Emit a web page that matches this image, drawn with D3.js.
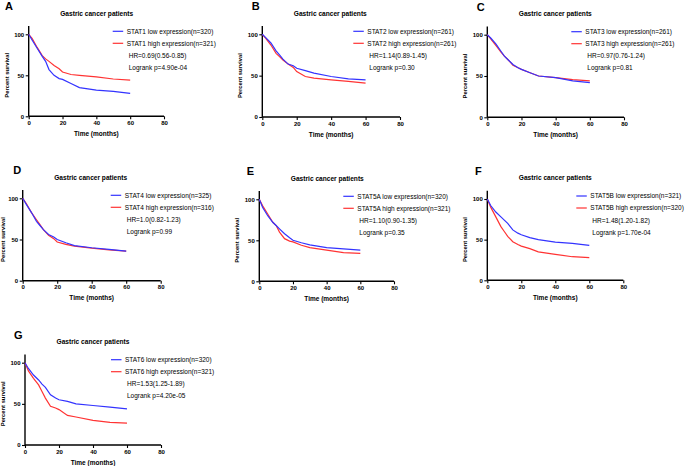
<!DOCTYPE html>
<html><head><meta charset="utf-8">
<script src="https://cdn.jsdelivr.net/npm/d3@7"></script>
<style>
body{margin:0;background:#fff;}
svg{display:block;font-family:"Liberation Sans",Arial,sans-serif;}
</style></head><body>
<svg id="c" width="685" height="466"></svg>
<script>
// ---- data ----
const times = [0, 2, 5, 8, 10, 12, 15, 18, 20, 25, 30, 40, 50, 60];
const stat1Low   = [100, 93, 83, 73, 67, 57, 50, 46, 45, 40, 35, 32, 30.5, 28];
const stat1High  = [100, 95, 84, 74, 70, 67, 62, 58, 54, 51, 50, 48, 45.5, 44];
const stat2Low   = [100, 96, 89.5, 80, 75, 70, 64, 62, 59, 56, 53, 49, 46, 45];
const stat2High  = [100, 95, 87, 77, 73, 69, 64, 60, 55, 49, 47, 45, 43, 41];
const stat3Low   = [100, 96, 89, 80, 74, 70, 64, 60, 58, 54, 50, 48, 44, 42];
const stat3High  = [100, 95, 87, 79, 74, 70, 63, 60, 58, 54, 50, 48, 45.5, 44];
const stat4Low   = [100, 93, 83, 72, 67, 62, 56, 53, 50, 46, 42.5, 40, 38, 36];
const stat4High  = [100, 94, 83, 74, 68, 62, 55, 51, 47, 44, 42, 39.5, 37.5, 36];
const stat5aLow  = [100, 90, 80, 72, 68, 64, 58, 53, 50, 47, 44.5, 41, 39.5, 38];
const stat5aHigh = [100, 92, 82, 72, 68, 60, 52, 49, 48, 44, 41, 38, 35, 34];
const stat5bLow  = [100, 92, 84, 78, 74, 70, 62, 58, 56, 52.5, 50, 47, 45.5, 43];
const stat5bHigh = [100, 90, 78, 66, 60, 54, 47.5, 44, 42, 39, 35, 32, 29, 28];
const stat6Low   = [100, 93, 85, 79, 74, 70, 61, 57, 55, 53, 50, 48, 46, 44];
const stat6High  = [100, 90, 81, 73, 65, 57, 47, 45, 43, 36, 34, 30, 27.5, 26.5];

const letters = ["A","B","C","D","E","F","G"];
const genes = ["STAT1","STAT2","STAT3","STAT4","STAT5A","STAT5B","STAT6"];
const lowN  = [320, 261, 261, 325, 320, 321, 320];
const highN = [321, 261, 261, 316, 321, 320, 321];
const hrText = ["HR=0.69(0.56-0.85)","HR=1.14(0.89-1.45)","HR=0.97(0.76-1.24)","HR=1.0(0.82-1.23)","HR=1.10(0.90-1.35)","HR=1.48(1.20-1.82)","HR=1.53(1.25-1.89)"];
const pText = ["Logrank p=4.90e-04","Logrank p=0.30","Logrank p=0.81","Logrank p=0.99","Logrank p=0.35","Logrank p=1.70e-04","Logrank p=4.20e-05"];
const lowSeries  = [stat1Low, stat2Low, stat3Low, stat4Low, stat5aLow, stat5bLow, stat6Low];
const highSeries = [stat1High, stat2High, stat3High, stat4High, stat5aHigh, stat5bHigh, stat6High];
const xTicks = [0, 20, 40, 60, 80];
const yTicks = [0, 50, 100];
const title = "Gastric cancer patients";

// ---- layout (pixel placement of each panel) ----
const layout = [
  {ox:28.7, oy:116.3, y100:34.3, x80:164,   leg:84, lx:5},
  {ox:262.3, oy:117,  y100:34.3, x80:400,   leg:91, lx:251.7},
  {ox:487.3, oy:117.3,y100:34.7, x80:624,   leg:84, lx:476.7},
  {ox:22.7, oy:280.7, y100:198.3,x80:160.7, leg:88, lx:13.3},
  {ox:259.3, oy:281.3,y100:199.3,x80:394,   leg:84, lx:246.7},
  {ox:487.3, oy:280.3,y100:199,  x80:623.3, leg:89, lx:475},
  {ox:25,   oy:445,   y100:362.7,x80:161,   leg:86, lx:14}
];
const BLUE = "#3333ff", RED = "#ff3333";
const svg = d3.select("#c");

layout.forEach((L, i) => {
  const g = svg.append("g");
  const x = d3.scaleLinear().domain([0, 80]).range([L.ox, L.x80]);
  const yPerUnit = (L.oy - L.y100) / 100;
  const y = d3.scaleLinear().domain([0, 110]).range([L.oy, L.oy - 110 * yPerUnit]);

  // axes
  const xa = g.append("g").attr("transform", `translate(0,${L.oy})`)
    .call(d3.axisBottom(x).tickValues(xTicks).tickSize(3).tickPadding(1.5));
  const ya = g.append("g").attr("transform", `translate(${L.ox},0)`)
    .call(d3.axisLeft(y).tickValues(yTicks).tickSize(3).tickPadding(1.5));
  [xa, ya].forEach(a => {
    a.selectAll("path").attr("stroke", "#000").attr("stroke-width", 1.4);
    a.selectAll("line").attr("stroke", "#000").attr("stroke-width", 1.1);
    a.selectAll("text").attr("font-size", 6).attr("font-weight", "bold")
      .attr("font-family", '"Liberation Sans",Arial,sans-serif').attr("fill", "#000");
  });
  xa.select(".domain").attr("d", `M${L.ox},0H${L.x80}`);
  ya.select(".domain").attr("d", `M0,${L.oy}V${y(110)}`);

  // curves
  const line = d3.line().x((d, k) => x(times[k])).y(d => y(d)).curve(d3.curveLinear);
  g.append("path").datum(highSeries[i]).attr("d", line).attr("fill", "none")
    .attr("stroke", RED).attr("stroke-width", 1.2);
  g.append("path").datum(lowSeries[i]).attr("d", line).attr("fill", "none")
    .attr("stroke", BLUE).attr("stroke-width", 1.2);

  // letter
  g.append("text").attr("x", L.lx).attr("y", L.y100 - 24).text(letters[i])
    .attr("font-size", 11).attr("font-weight", "bold");
  // title
  g.append("text").attr("x", L.ox + 68).attr("y", L.y100 - 18.6).attr("text-anchor", "middle")
    .attr("font-size", 6.6).attr("font-weight", "bold").text(title);
  // axis labels
  g.append("text").attr("x", x(40)).attr("y", L.oy + 19.5).attr("text-anchor", "middle")
    .attr("font-size", 6.5).attr("font-weight", "bold").text("Time (months)");
  g.append("text").attr("transform", `translate(${Math.max(L.ox - 20, 5)},${y(50)}) rotate(-90)`)
    .attr("text-anchor", "middle").attr("font-size", 5.8).attr("font-weight", "bold")
    .text("Percent survival");

  // legend
  const lx0 = L.ox + L.leg, ly0 = L.y100 - 3;
  const items = [[BLUE, `${genes[i]} low expression(n=${lowN[i]})`],
                 [RED, `${genes[i]} high expression(n=${highN[i]})`]];
  items.forEach((it, k) => {
    const yy = ly0 + k * 12;
    g.append("line").attr("x1", lx0).attr("x2", lx0 + 10.5).attr("y1", yy).attr("y2", yy)
      .attr("stroke", it[0]).attr("stroke-width", 1.2);
    g.append("text").attr("x", lx0 + 14).attr("y", yy + 2.3).attr("font-size", 6.5).text(it[1]);
  });
  g.append("text").attr("x", lx0 + 16).attr("y", ly0 + 24 + 2.6).attr("font-size", 6.5).text(hrText[i]);
  g.append("text").attr("x", lx0 + 16).attr("y", ly0 + 36 + 2.6).attr("font-size", 6.5).text(pText[i]);
});
</script>
</body></html>
